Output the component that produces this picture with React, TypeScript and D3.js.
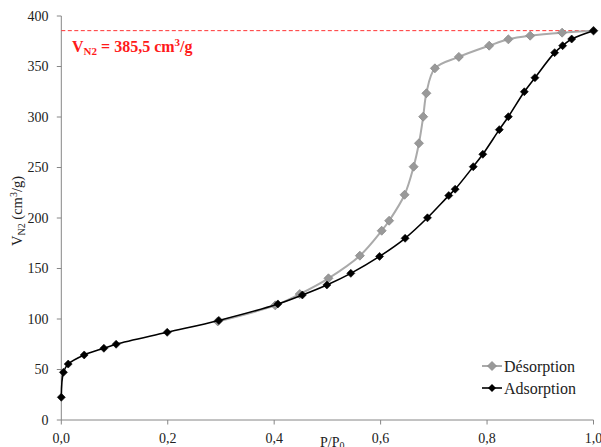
import React from "react";
import * as d3 from "d3";

const xTicks = [0, 0.2, 0.4, 0.6, 0.8, 1.0];
const yTicks = [0, 50, 100, 150, 200, 250, 300, 350, 400];

const adsX = [0.0, 0.004, 0.013, 0.043, 0.08, 0.103, 0.199, 0.296, 0.407, 0.453, 0.499, 0.544, 0.598, 0.646, 0.688, 0.728, 0.74, 0.774, 0.792, 0.823, 0.84, 0.87, 0.89, 0.927, 0.942, 0.959, 1.0];
const adsY = [22.5, 47.2, 55.4, 64.4, 71, 75, 86.8, 98.6, 114.9, 123.8, 133.7, 145.2, 162, 179.9, 200.2, 222.2, 228.5, 250.8, 263.1, 287.5, 300.3, 325, 338.9, 363.7, 370.6, 377.2, 385.5];

const desX = [1.0, 0.941, 0.881, 0.84, 0.804, 0.747, 0.702, 0.686, 0.68, 0.672, 0.662, 0.645, 0.616, 0.602, 0.561, 0.502, 0.448, 0.402, 0.294];
const desY = [385.3, 383.5, 380.5, 376.9, 370.6, 359.5, 348.2, 323.5, 300.3, 274, 250.8, 223, 197.3, 187.4, 162.7, 140.3, 124.7, 113.5, 97.6];

const vLimit = 385.5;

const fontFam = "'Times New Roman', 'Liberation Serif', 'DejaVu Serif', serif";

function diamond(cx: number, cy: number, r: number) {
  return `M${cx},${cy - r}L${cx + r},${cy}L${cx},${cy + r}L${cx - r},${cy}Z`;
}

export default function App() {
  const left = 61.3, right = 593.5, top = 16, bottom = 420;
  const x = d3.scaleLinear().domain([0, 1]).range([left, right]);
  const y = d3.scaleLinear().domain([0, 400]).range([bottom, top]);

  const ads = adsX.map((v, i) => [v, adsY[i]] as [number, number]);
  const des = desX.map((v, i) => [v, desY[i]] as [number, number]);

  const line = d3
    .line<[number, number]>()
    .x((d) => x(d[0]))
    .y((d) => y(d[1]))
    .curve(d3.curveCatmullRom.alpha(0.5));

  const axisColor = "#868686";
  const tf = { fontFamily: fontFam };

  return (
    <svg
      width={601}
      height={447}
      style={{ position: "absolute", left: 0, top: 0, background: "#fff", fontFamily: fontFam }}
    >
      {/* axes */}
      <line x1={left} x2={left} y1={top} y2={bottom} stroke={axisColor} strokeWidth={1} />
      <line x1={left} x2={right} y1={bottom} y2={bottom} stroke={axisColor} strokeWidth={1} />
      {yTicks.map((t) => (
        <g key={"y" + t}>
          <line x1={left - 4.5} x2={left} y1={y(t)} y2={y(t)} stroke={axisColor} />
          <text x={48.5} y={y(t) + 4.5} textAnchor="end" fontSize={14} fill="#222" style={tf}>
            {t}
          </text>
        </g>
      ))}
      {xTicks.map((t) => (
        <g key={"x" + t}>
          <line x1={x(t)} x2={x(t)} y1={bottom} y2={bottom + 4.5} stroke={axisColor} />
          <text x={x(t)} y={442.5} textAnchor="middle" fontSize={14} fill="#222" style={tf}>
            {t.toFixed(1).replace(".", ",")}
          </text>
        </g>
      ))}

      {/* axis titles */}
      <text x={320} y={446.5} fontSize={14} fill="#222" style={tf}>
        P/P<tspan fontSize={10} dy={2.5}>0</tspan>
      </text>
      <text
        transform={`translate(22,211) rotate(-90)`}
        textAnchor="middle"
        fontSize={14.5}
        fill="#222"
        style={tf}
      >
        V<tspan fontSize={10} dy={3}>N2</tspan>
        <tspan dy={-3}> (cm</tspan>
        <tspan fontSize={10} dy={-5}>3</tspan>
        <tspan dy={5}>/g)</tspan>
      </text>

      {/* red limit line */}
      <line
        x1={left}
        x2={right}
        y1={y(vLimit)}
        y2={y(vLimit)}
        stroke="#ff3333"
        strokeWidth={1}
        strokeDasharray="4,2.5"
      />
      <text x={72} y={51.5} fontSize={16} fontWeight="bold" fill="#ff1a1a" style={tf}>
        V<tspan fontSize={11} dy={3}>N2</tspan>
        <tspan dy={-3}> = {String(vLimit).replace(".", ",")} cm</tspan>
        <tspan fontSize={11} dy={-6}>3</tspan>
        <tspan dy={6}>/g</tspan>
      </text>

      {/* desorption */}
      <path d={line(des) || ""} fill="none" stroke="#aaaaaa" strokeWidth={2} />
      {des.map((d, i) => (
        <path key={"d" + i} d={diamond(x(d[0]), y(d[1]), 4.5)} fill="#999999" stroke="#8a8a8a" strokeWidth={0.8} />
      ))}

      {/* adsorption */}
      <path d={line(ads) || ""} fill="none" stroke="#000" strokeWidth={1.6} />
      {ads.map((d, i) => (
        <path key={"a" + i} d={diamond(x(d[0]), y(d[1]), 4)} fill="#000" stroke="#000" strokeWidth={0.6} />
      ))}

      {/* legend */}
      <g>
        <line x1={482} x2={502} y1={366} y2={366} stroke="#aaaaaa" strokeWidth={2} />
        <path d={diamond(492, 366, 4.5)} fill="#999999" stroke="#8a8a8a" strokeWidth={0.8} />
        <text x={504} y={371.5} fontSize={16} fill="#222" style={tf}>Désorption</text>
        <line x1={482} x2={502} y1={388} y2={388} stroke="#000" strokeWidth={1.6} />
        <path d={diamond(492, 388, 4)} fill="#000" />
        <text x={504} y={393.5} fontSize={16} fill="#222" style={tf}>Adsorption</text>
      </g>
    </svg>
  );
}
